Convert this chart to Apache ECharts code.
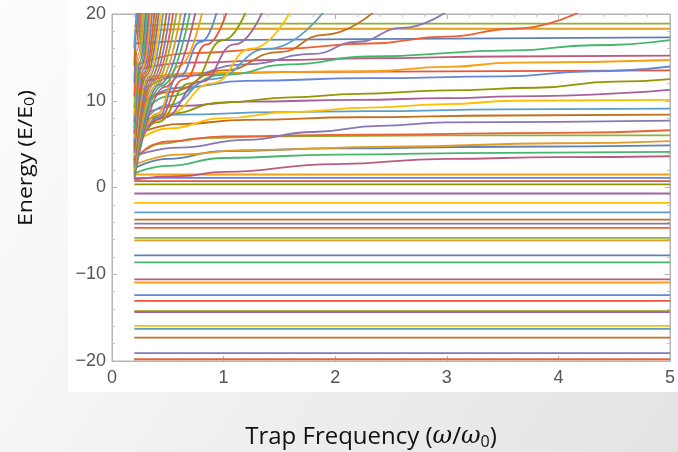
<!DOCTYPE html>
<html>
<head>
<meta charset="utf-8">
<script src="https://cdn.jsdelivr.net/npm/echarts@6/dist/echarts.min.js"></script>
<style>
  html, body { margin: 0; padding: 0; }
  #chart { width: 678px; height: 452px; }
</style>
</head>
<body>
<div id="chart"></div>
<script>
// energy levels that stay flat over the whole trap-frequency range
const negativeLevels = [-19.8, -19.1, -17.3, -16.3, -15.95, -14.35, -14.25, -13.06, -12.4,
  -10.95, -10.6, -8.64, -7.82, -6.09, -5.8, -4.66, -4.16, -3.7, -2.86, -1.77, -0.69];
const lowLevels = [0.35, 0.73, 1.1, 1.5];

// levels that rise out of the fan and settle below 20 by omega = 5
const boundCurves = [
  [[0.2, 0.9], [0.6, 1.3], [1.0, 1.8], [2.0, 2.7], [3.0, 3.3], [4.0, 3.5], [5, 3.6]],
  [[0.2, 1.6], [0.5, 2.5], [1.0, 3.4], [2.0, 3.8], [3.5, 4.0], [5, 4.1]],
  [[0.2, 2.2], [0.5, 3.3], [1.0, 4.2], [2.0, 4.5], [3.5, 4.7], [5, 4.85]],
  [[0.2, 2.6], [0.6, 3.8], [1.2, 4.3], [2.5, 4.7], [4.0, 5.1], [5, 5.35]],
  [[0.2, 3.0], [0.4, 5.0], [0.8, 5.7], [1.5, 5.9], [3, 6.0], [5, 6.0]],
  [[0.2, 3.3], [0.5, 5.3], [1.0, 5.9], [2.3, 6.1], [4, 6.3], [5, 6.6]],
  [[0.2, 3.6], [0.6, 4.6], [1.2, 5.5], [1.8, 6.4], [2.4, 7.1], [3.0, 7.5], [5, 7.7]],
  [[0.2, 6.0], [0.6, 7.3], [1.2, 7.8], [2.2, 8.1], [3.5, 8.3], [5, 8.4]],
  [[0.2, 7.5], [0.6, 8.4], [1.5, 8.7], [2.3, 8.8], [3.5, 9.0], [5, 9.1]],
  [[0.2, 5.0], [0.5, 6.8], [1.0, 8.0], [1.6, 8.7], [2.3, 9.2], [3.0, 9.6], [3.6, 10.0], [5, 10.1]],
  [[0.2, 8.0], [0.6, 9.4], [1.2, 9.9], [2.2, 10.1], [3.0, 10.3], [3.6, 10.5], [5, 11.25]],
  [[0.2, 6.5], [0.5, 8.5], [1.0, 9.8], [1.6, 10.4], [2.2, 10.8], [3.0, 11.2], [3.8, 11.5], [4.5, 12.2], [5, 12.5]],
  [[0.2, 11.8], [0.6, 12.9], [1.5, 13.3], [5, 13.5]],
  [[0.2, 9.0], [0.6, 11.5], [1.2, 12.3], [2.3, 12.6], [3.5, 12.8], [4.3, 13.4], [5, 13.95]],
  [[0.2, 12.5], [0.8, 13.2], [2.3, 13.4], [3.0, 13.9], [3.6, 14.4], [5, 14.7]],
  [[0.2, 13.5], [0.7, 14.4], [1.5, 14.7], [2.3, 14.9], [3.5, 15.1], [5, 15.2]],
  [[0.2, 7.0], [0.5, 10.5], [1.0, 13.0], [1.6, 14.2], [2.3, 15.1], [3.6, 15.8], [4.3, 16.4], [5, 17.0]],
  [[0.2, 16.6], [1.0, 17.0], [2.2, 17.1], [5, 17.3]],
  [[0.2, 18.0], [0.8, 18.3], [5, 18.3]],
  [[0.2, 18.6], [0.8, 18.9], [5, 18.9]]
];

// levels that leave through the top of the frame in the middle of the range
const escapingCurves = [
  [[0.2, 14.0], [0.7, 15.5], [1.5, 16.0], [2.3, 16.6], [3.0, 17.4], [3.6, 18.3], [4.2, 20.3]],
  [[0.2, 10.5], [0.6, 12.8], [1.2, 14.2], [1.8, 15.4], [2.2, 16.8], [2.6, 18.4], [3.0, 20.3]],
  [[0.2, 8.5], [0.5, 11.0], [1.0, 13.5], [1.5, 15.6], [1.9, 17.6], [2.35, 20.3]],
  [[0.2, 6.0], [0.5, 9.5], [0.9, 12.5], [1.4, 16.0], [1.9, 20.3]],
  [[0.2, 4.5], [0.5, 8.5], [0.9, 12.0], [1.25, 16.0], [1.6, 20.3]],
  [[0.2, 4.0], [0.45, 8.0], [0.8, 12.2], [1.1, 16.5], [1.35, 20.3]],
  [[0.2, 3.5], [0.4, 7.5], [0.7, 12.0], [1.0, 17.0], [1.2, 20.3]],
  [[0.2, 3.2], [0.4, 7.8], [0.65, 12.5], [0.85, 16.5], [1.03, 20.3]],
  [[0.2, 2.6], [0.4, 8.0], [0.6, 12.8], [0.8, 16.8], [0.94, 20.3]],
  [[0.2, 2.2], [0.4, 8.5], [0.6, 14.0], [0.81, 20.3]]
];

// steep fan near the left edge
const fanCurves = [
  [[0.2, 1.0], [0.475, 11.6], [0.75, 20.3]],
  [[0.2, 1.3], [0.45, 11.75], [0.7, 20.3]],
  [[0.2, 1.6], [0.43, 11.9], [0.66, 20.3]],
  [[0.2, 1.9], [0.41, 12.0], [0.62, 20.3]],
  [[0.2, 2.2], [0.39, 12.15], [0.58, 20.3]],
  [[0.2, 2.5], [0.375, 12.3], [0.55, 20.3]],
  [[0.2, 2.8], [0.36, 12.4], [0.52, 20.3]],
  [[0.2, 3.1], [0.345, 12.56], [0.49, 20.3]],
  [[0.2, 3.4], [0.33, 12.7], [0.46, 20.3]],
  [[0.2, 3.7], [0.32, 12.83], [0.44, 20.3]],
  [[0.2, 4.0], [0.31, 12.97], [0.42, 20.3]],
  [[0.2, 4.4], [0.30, 13.15], [0.40, 20.3]],
  [[0.2, 4.8], [0.29, 13.3], [0.38, 20.3]],
  [[0.2, 5.2], [0.28, 13.5], [0.36, 20.3]],
  [[0.2, 5.7], [0.2725, 13.7], [0.345, 20.3]],
  [[0.2, 6.2], [0.265, 13.95], [0.33, 20.3]],
  [[0.2, 6.8], [0.2575, 14.2], [0.315, 20.3]],
  [[0.2, 7.5], [0.25, 14.5], [0.30, 20.3]],
  [[0.2, 8.3], [0.2425, 14.9], [0.285, 20.3]],
  [[0.2, 9.2], [0.235, 15.3], [0.27, 20.3]],
  [[0.2, 10.5], [0.2275, 15.9], [0.255, 20.3]],
  [[0.2, 12.0], [0.22, 16.6], [0.24, 20.3]],
  [[0.2, 14.0], [0.214, 17.5], [0.228, 20.3]],
  [[0.2, 16.0], [0.209, 18.4], [0.218, 20.3]]
];

const omegaStart = 0.2;
const omegaEnd = 5;

// Mathematica's default plot colours
const palette = ['#5E81B5', '#E19C24', '#8FB032', '#EB6235', '#8778B3', '#C56E1A', '#5D9EC7',
  '#FFBF00', '#A5609D', '#929600', '#E95536', '#6685D9', '#F89F13', '#BC5B80', '#47B66D'];

const flat = (e) => [[omegaStart, e], [omegaEnd, e]];
const curves = [
  ...negativeLevels.map(flat),
  ...lowLevels.map(flat),
  ...boundCurves,
  ...escapingCurves,
  ...fanCurves
];

const series = curves.map((data, i) => ({
  type: 'line',
  data: data,
  showSymbol: false,
  smooth: 0.5,
  smoothMonotone: 'x',
  silent: true,
  animation: false,
  lineStyle: { width: 1.8, color: palette[(i + 3) % palette.length] }
}));

const chart = echarts.init(document.getElementById('chart'));
const tickFont = { color: '#555', fontSize: 18, fontFamily: 'Liberation Sans, Arial, sans-serif' };
const frameLine = { show: true, onZero: false, lineStyle: { color: '#b5b5b5' } };
const frameTick = { show: true, inside: true, length: 5, lineStyle: { color: '#b5b5b5' } };
const frameMinor = { show: true, splitNumber: 5, length: 3, lineStyle: { color: '#c5c5c5' } };

chart.setOption({
  animation: false,
  graphic: [
    {
      type: 'rect', z: -100, silent: true,
      shape: { x: 0, y: 0, width: 678, height: 452 },
      style: {
        fill: new echarts.graphic.LinearGradient(0, 0, 1, 1, [
          { offset: 0, color: '#fdfdfd' },
          { offset: 1, color: '#e3e3e3' }
        ])
      }
    },
    {
      type: 'rect', z: -99, silent: true,
      shape: { x: 68, y: 0, width: 610, height: 392 },
      style: { fill: '#ffffff' }
    },
    {
      type: 'text', silent: true,
      x: 26, y: 158, rotation: Math.PI / 2, scaleX: 1.15,
      style: {
        text: '{t|Energy (E/E}{s|0}{t|)}',
        align: 'center', verticalAlign: 'middle',
        rich: {
          t: { fontSize: 20, fill: '#111', fontFamily: 'Open Sans, sans-serif' },
          s: { fontSize: 14, fill: '#111', fontFamily: 'Open Sans, sans-serif', padding: [9, 0, 0, 0] }
        }
      }
    },
    {
      type: 'text', silent: true,
      x: 371, y: 437,
      style: {
        text: '{t|Trap Frequency (}{i|ω}{t|/}{i|ω}{s|0}{t|)}',
        align: 'center', verticalAlign: 'middle',
        rich: {
          t: { fontSize: 24, fill: '#111', fontFamily: 'Open Sans, sans-serif' },
          i: { fontSize: 24, fill: '#111', fontStyle: 'italic', fontFamily: 'DejaVu Serif, serif' },
          s: { fontSize: 16, fill: '#111', fontFamily: 'Open Sans, sans-serif', padding: [11, 0, 0, 0] }
        }
      }
    }
  ],
  grid: {
    left: 112, right: 5, top: 14, bottom: 91,
    show: true, borderColor: '#b5b5b5', borderWidth: 1, backgroundColor: 'transparent'
  },
  xAxis: [
    {
      type: 'value', min: 0, max: 5, interval: 1,
      axisLine: frameLine, axisTick: frameTick, minorTick: frameMinor,
      splitLine: { show: false },
      axisLabel: Object.assign({ margin: 8 }, tickFont)
    },
    {
      type: 'value', position: 'top', min: 0, max: 5, interval: 1,
      axisLine: frameLine, axisTick: frameTick, minorTick: frameMinor,
      splitLine: { show: false }, axisLabel: { show: false }
    }
  ],
  yAxis: [
    {
      type: 'value', min: -20, max: 20, interval: 10,
      axisLine: frameLine, axisTick: frameTick, minorTick: frameMinor,
      splitLine: { show: false },
      axisLabel: Object.assign({ margin: 6, formatter: (v) => String(v).replace('-', '\u2212') }, tickFont)
    },
    {
      type: 'value', position: 'right', min: -20, max: 20, interval: 10,
      axisLine: frameLine, axisTick: frameTick, minorTick: frameMinor,
      splitLine: { show: false }, axisLabel: { show: false }
    }
  ],
  series: series
});
</script>
</body>
</html>
